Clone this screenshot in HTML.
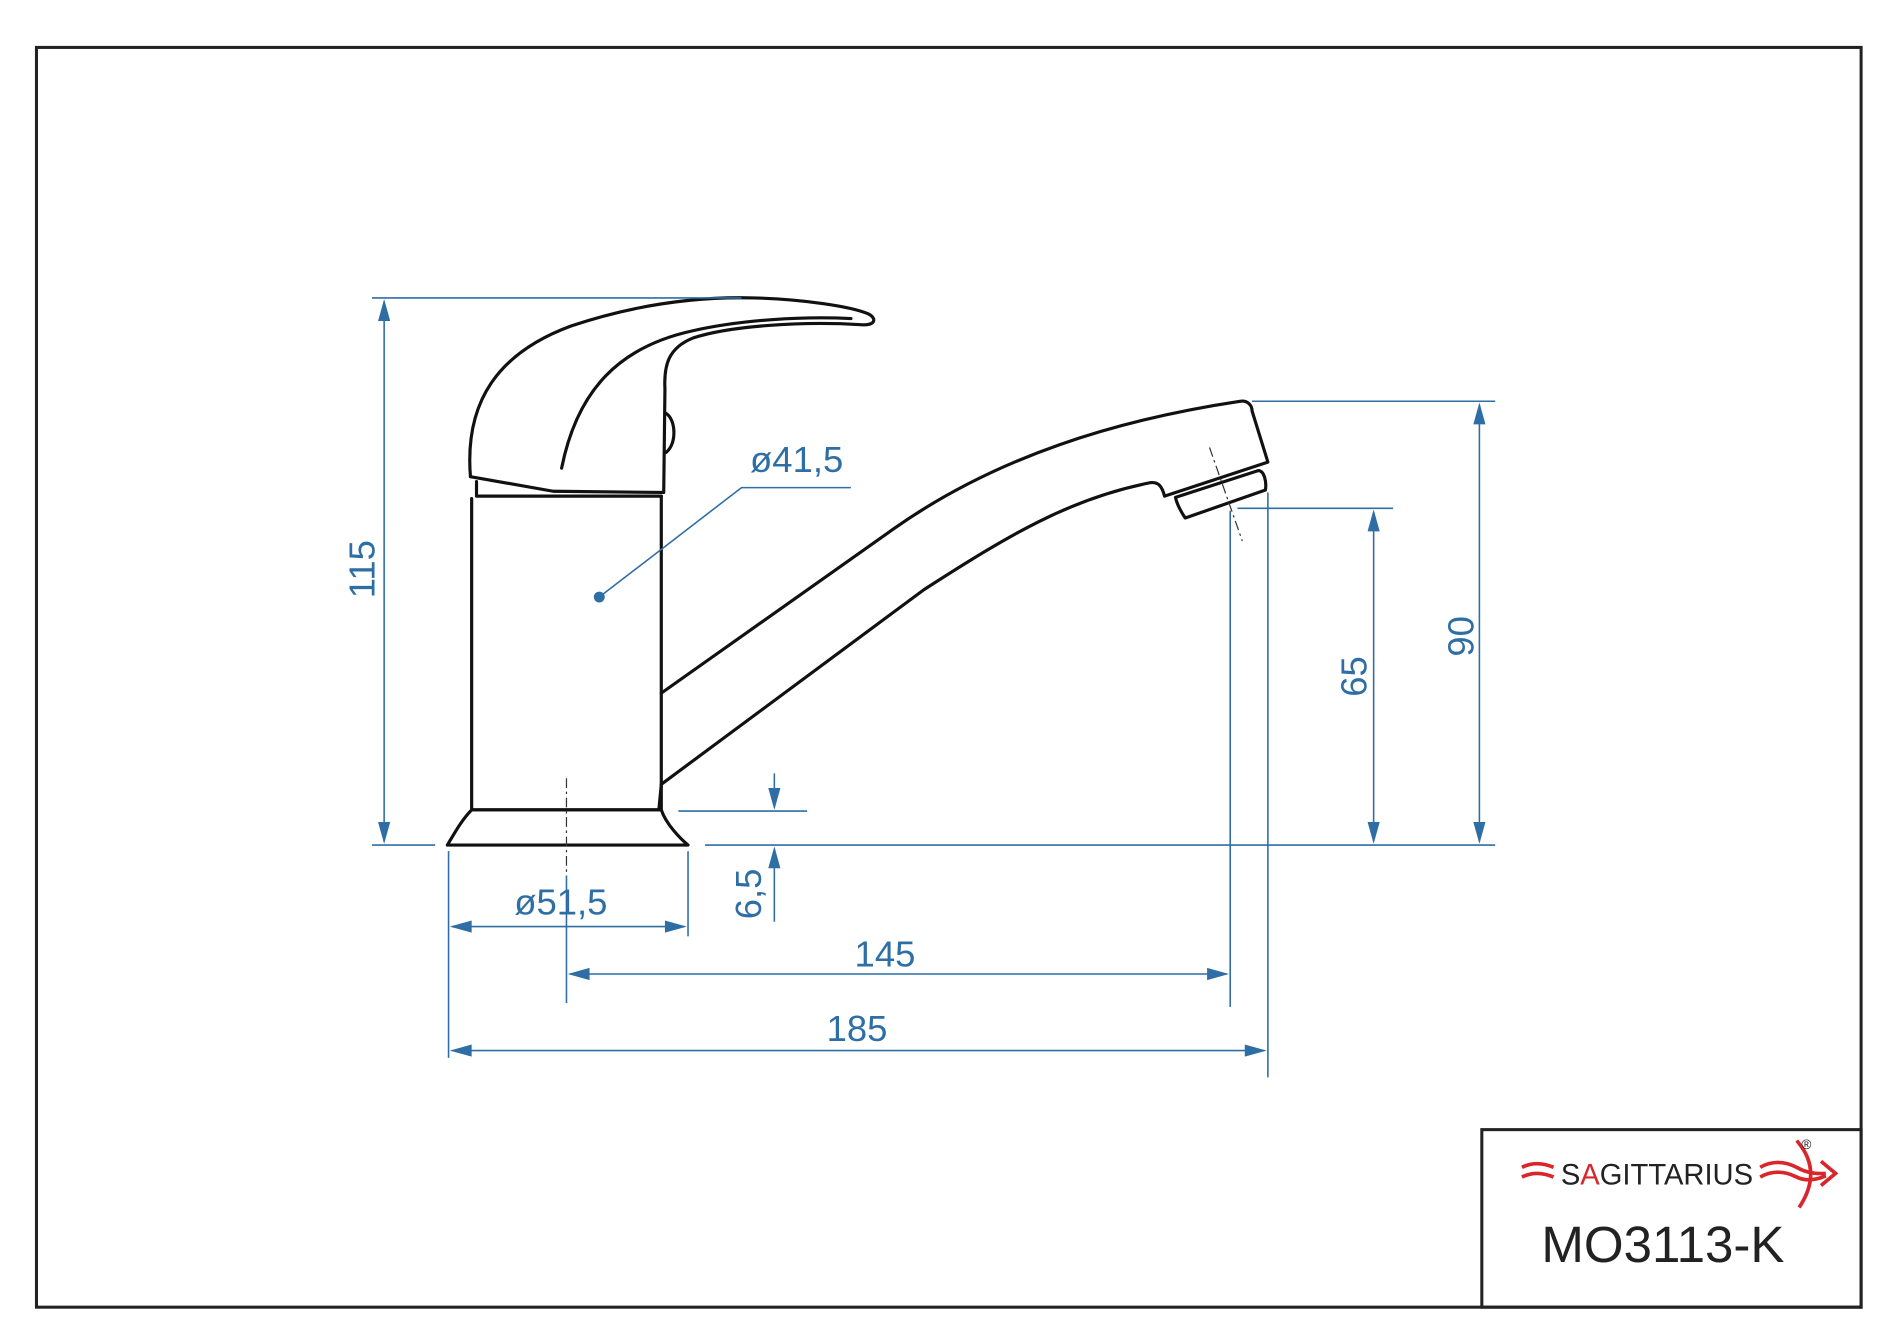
<!DOCTYPE html>
<html><head><meta charset="utf-8"><style>html,body{margin:0;padding:0;background:#fff}svg{display:block}</style></head>
<body>
<svg width="1900" height="1340" viewBox="0 0 1563 1102" xmlns="http://www.w3.org/2000/svg" preserveAspectRatio="none">
<rect x="0" y="0" width="1563" height="1102" fill="#fff"/>
<rect x="30" y="39" width="1501" height="1036" fill="none" stroke="#222" stroke-width="2.5"/>
<rect x="1219" y="929" width="312" height="146" fill="none" stroke="#222" stroke-width="2.5"/>
<!-- faucet -->
<g fill="none" stroke="#111" stroke-width="2.6" stroke-linejoin="round" stroke-linecap="round">
<!-- handle -->
<path d="M387,392 C382,330 410,290 470,268 C530,248 580,244 620,245 C660,246 700,252 714,258 C722,262 720,268 708,267 C660,264 600,268 570,278 C550,286 546,300 547,320 L546,405"/>
<path d="M462,385 C475,320 510,285 570,272 C610,263 660,260 700,262"/>
<path d="M387,392 L455,404 L545,405"/>
<path d="M548,340 C556,345 557,365 548,372"/>
<path d="M392,396 L392,408 L544,408"/>
<!-- body -->
<path d="M388,410 L388,666 L544,666 L544,570 L544,408"/>
<path d="M388,666 L544,666 C548,678 560,690 566,695 L368,695 C374,685 380,674 388,666 Z"/>
<!-- spout -->
<path d="M544,570 L735,435 C820,375 920,345 1020,330 C1026,329 1030,333 1030,338 L1043,380 L958,408 C956,400 953,396 946,397 C880,410 830,440 760,485 L544,645 L542,666"/>
<path d="M967,409 L1035,387 C1040,387 1042,396 1041,403 L975,426 C971,420 968,414 967,409 Z"/>
</g>
<!-- centerlines -->
<g stroke="#333" stroke-width="1" stroke-dasharray="8,3,2,3" fill="none">
<line x1="466" y1="640" x2="466" y2="720"/>
<line x1="995" y1="368" x2="1022" y2="445"/>
</g>
<!-- dimension lines -->
<g stroke="#2f6ea5" stroke-width="1.3" fill="none">
<line x1="306" y1="245" x2="610" y2="245"/>
<line x1="306" y1="695" x2="358" y2="695"/>
<line x1="316" y1="248" x2="316" y2="692"/>
<line x1="580" y1="695" x2="1230" y2="695"/>
<line x1="1030" y1="330" x2="1230" y2="330"/>
<line x1="1018" y1="418" x2="1146" y2="418"/>
<line x1="1217" y1="333" x2="1217" y2="692"/>
<line x1="1130" y1="421" x2="1130" y2="692"/>
<line x1="558" y1="667" x2="664" y2="667"/>
<line x1="637" y1="636" x2="637" y2="664"/>
<line x1="637" y1="698" x2="637" y2="758"/>
<line x1="369" y1="700" x2="369" y2="870"/>
<line x1="566" y1="700" x2="566" y2="770"/>
<line x1="466" y1="720" x2="466" y2="825"/>
<line x1="1012" y1="420" x2="1012" y2="828"/>
<line x1="1043" y1="405" x2="1043" y2="886"/>
<line x1="372" y1="762" x2="563" y2="762"/>
<line x1="469" y1="801" x2="1009" y2="801"/>
<line x1="372" y1="864" x2="1040" y2="864"/>
<polyline points="493,491 610,401 700,401"/>
</g>
<circle cx="493" cy="491" r="4.5" fill="#2f6ea5"/>
<g fill="#2f6ea5">
<path d="M316,246 l-5,18 l10,0z"/><path d="M316,694 l-5,-18 l10,0z"/>
<path d="M1217,331 l-5,18 l10,0z"/><path d="M1217,694 l-5,-18 l10,0z"/>
<path d="M1130,419 l-5,18 l10,0z"/><path d="M1130,694 l-5,-18 l10,0z"/>
<path d="M637,666 l-5,-18 l10,0z"/><path d="M637,696 l-5,18 l10,0z"/>
<path d="M370,762 l18,-5 l0,10z"/><path d="M565,762 l-18,-5 l0,10z"/>
<path d="M467,801 l18,-5 l0,10z"/><path d="M1011,801 l-18,-5 l0,10z"/>
<path d="M370,864 l18,-5 l0,10z"/><path d="M1042,864 l-18,-5 l0,10z"/>
</g>
<g fill="#2f6ea5" font-family="Liberation Sans, sans-serif" font-size="30">
<text x="617" y="388">ø41,5</text>
<text x="423" y="752">ø51,5</text>
<text x="703" y="795">145</text>
<text x="680" y="856">185</text>
<text transform="translate(308,492) rotate(-90)">115</text>
<text transform="translate(1212,540) rotate(-90)">90</text>
<text transform="translate(1124,573) rotate(-90)">65</text>
<text transform="translate(626,756) rotate(-90)">6,5</text>
</g>
<!-- logo -->
<g fill="none" stroke="#d8262a" stroke-width="3">
<path d="M1252,960 q12,-6 26,0"/><path d="M1252,968 q12,-6 26,0"/>
<path d="M1448,960 q14,-8 30,0 q10,6 24,5"/><path d="M1448,968 q14,-8 30,0 q10,5 24,-1"/>
<path d="M1478,938 q22,25 2,55"/><path d="M1498,955 l12,10 l-12,10"/>
</g>
<text x="1284" y="974" font-family="Liberation Sans, sans-serif" font-size="24" fill="#222">S<tspan fill="#d8262a">A</tspan>GITTARIUS</text>
<text x="1482" y="945" font-family="Liberation Sans, sans-serif" font-size="11" fill="#222">®</text>
<text x="1268" y="1038" font-family="Liberation Sans, sans-serif" font-size="42" fill="#222">MO3113-K</text>
</svg>
</body></html>
